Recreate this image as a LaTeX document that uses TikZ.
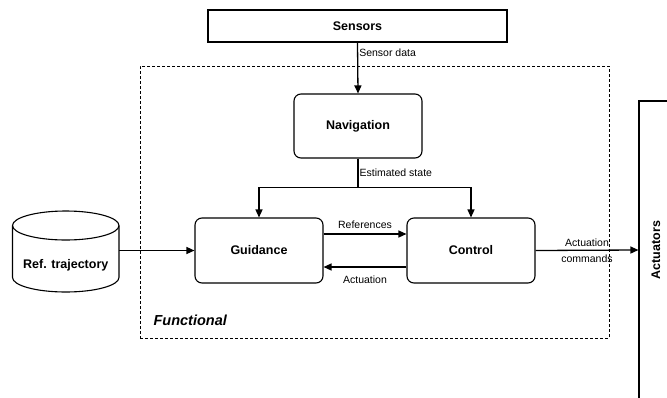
\documentclass[tikz,border=0pt]{standalone}
\usepackage{fontspec}
\setmainfont{Liberation Sans}
\usepackage{tikz}
\usetikzlibrary{arrows.meta}

\tikzset{
  block/.style={draw, line width=1.1pt, rounded corners=7pt, font=\fontsize{12.5}{14}\selectfont\bfseries},
  flat/.style={draw, line width=1.1pt, font=\fontsize{12.5}{14}\selectfont\bfseries},
  wire/.style={line width=1.3pt, -{Triangle[length=8pt,width=7pt]}},
  tag/.style={font=\fontsize{10.5}{12}\selectfont, inner sep=1pt}
}

\begin{document}
\begin{tikzpicture}[x=1pt,y=-1pt]
  \useasboundingbox (0,0) rectangle (667,397);
  \clip (0,0) rectangle (667,397);

  % Functional frame
  \node[draw, dash pattern=on 3pt off 2pt, line width=0.9pt, minimum width=469pt, minimum height=272pt] (func) at (374.5,202) {};
  \node[anchor=west, font=\fontsize{14.5}{16}\selectfont\bfseries\itshape] (functag) at (150,320) {Functional};

  % Blocks
  \node[flat, minimum width=299pt, minimum height=32pt] (sens) at (357.5,26) {Sensors};
  \node[block, minimum width=128pt, minimum height=64pt] (nav) at (358,126) {Navigation};
  \node[block, minimum width=128pt, minimum height=65pt] (guid) at (259,250.5) {Guidance};
  \node[block, minimum width=128pt, minimum height=65pt] (ctrl) at (471,250.5) {Control};
  \node[flat, minimum width=34pt, minimum height=298pt] (act) at (656,250) {\rotatebox{90}{Actuators}};

  % Reference trajectory store (cylinder)
  \node[font=\fontsize{12.5}{14}\selectfont\bfseries, minimum width=106.5pt] (traj) at (65.75,265) {Ref. trajectory};
  \draw[line width=1.1pt] (65.75,225.5) ellipse [x radius=53.25pt, y radius=14.5pt];
  \draw[line width=1.1pt] (12.5,225.5) -- (12.5,277.5) arc [start angle=180, end angle=360, x radius=53.25pt, y radius=14.5pt] -- (119,225.5);

  % Connections
  \draw[wire] (sens.south) -- node[tag, anchor=west, pos=0.2] {Sensor data} (nav.north);
  \draw[wire] (nav.south) -- node[tag, anchor=west, pos=0.5] {Estimated state} ++(0,29) -| (guid.north);
  \draw[wire] (nav.south) -- ++(0,29) -| (ctrl.north);
  \draw[wire] ([yshift=16.5pt]guid.east) -- node[tag, above=4pt] {References} ([yshift=16.5pt]ctrl.west);
  \draw[wire] ([yshift=-16.5pt]ctrl.west) -- node[tag, below=7pt] {Actuation} ([yshift=-16.5pt]guid.east);
  \draw[wire] (traj.east |- guid.west) -- (guid.west);
  \draw[wire] (ctrl.east) -- node[tag, align=center] {Actuation\\[4pt]commands} (act.west);
\end{tikzpicture}
\end{document}
